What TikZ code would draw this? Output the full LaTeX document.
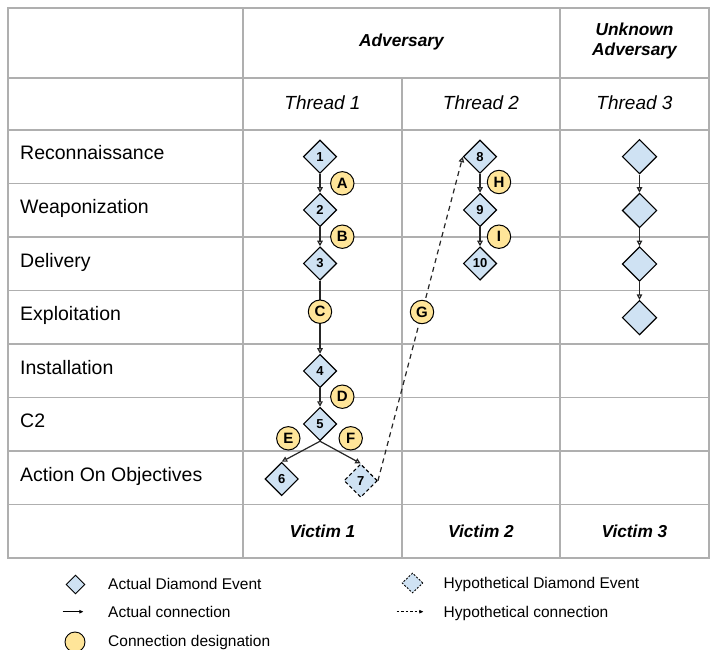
\documentclass[tikz,border=0pt]{standalone}
\usepackage{fontspec}
\setmainfont{Liberation Sans}
\usetikzlibrary{shapes.geometric,arrows.meta}
\definecolor{dfill}{RGB}{207,226,243}
\definecolor{cfill}{RGB}{255,229,153}
\definecolor{gridc}{RGB}{175,175,175}
\begin{document}
\begin{tikzpicture}[x=1pt,y=-1pt,
  ev/.style={diamond,draw=black,line width=1.1pt,fill=dfill,inner sep=0pt,
    minimum width=33.4pt,minimum height=33.4pt,font=\fontsize{13}{13}\selectfont\bfseries},
  evbig/.style={ev,minimum width=34.5pt,minimum height=34.5pt},
  hyp/.style={ev,dash pattern=on 3.5pt off 2.5pt},
  lab/.style={circle,draw=black,line width=1pt,fill=cfill,inner sep=0pt,
    minimum size=23.4pt,font=\fontsize{15}{15}\selectfont\bfseries},
  conn/.style={line width=1.2pt,draw={black!85},-{Triangle[open,length=5.5pt,width=5.5pt]}},
  hconn/.style={conn,dash pattern=on 5pt off 4pt},
  gridl/.style={draw=gridc,line width=1.2pt},
  rowlab/.style={anchor=base west,inner sep=0pt,font=\fontsize{19.5}{19.5}\selectfont},
  hdr/.style={inner sep=0pt,font=\fontsize{17.3}{20}\selectfont\bfseries\itshape},
  thr/.style={inner sep=0pt,font=\fontsize{19}{19}\selectfont\itshape},
  legtxt/.style={anchor=base west,inner sep=0pt,font=\fontsize{15.5}{15.5}\selectfont}]
\useasboundingbox (0,0) rectangle (710,650);

% grid
\draw[gridl] (8,8) rectangle (709,558);
\foreach \y in {78,130,183.5,237,290.5,344,397.5,451,504.5}
  \draw[gridl] (8,\y) -- (709,\y);
\draw[gridl] (243,8) -- (243,558);
\draw[gridl] (560,8) -- (560,558);
\draw[gridl] (402,78) -- (402,558);

% headers
\node[hdr] (adv) at (401.5,42) {Adversary};
\node[hdr,align=center] (unk) at (634.5,41) {Unknown\\Adversary};
\node[thr] (t1) at (322.5,103) {Thread 1};
\node[thr] (t2) at (481,103) {Thread 2};
\node[thr] (t3) at (634.5,103) {Thread 3};
\node[hdr] (v1) at (322.5,531) {Victim 1};
\node[hdr] (v2) at (481,531) {Victim 2};
\node[hdr] (v3) at (634.5,531) {Victim 3};

% row labels
\node[rowlab] (r1) at (20,160) {Reconnaissance};
\node[rowlab] (r2) at (20,213.5) {Weaponization};
\node[rowlab] (r3) at (20,267) {Delivery};
\node[rowlab] (r4) at (20,320.5) {Exploitation};
\node[rowlab] (r5) at (20,374) {Installation};
\node[rowlab] (r6) at (20,427.5) {C2};
\node[rowlab] (r7) at (20,481) {Action On Objectives};

% diamonds
\node[ev] (d1) at (320,156.7) {1};
\node[ev] (d2) at (320,210) {2};
\node[ev] (d3) at (320,263.5) {3};
\node[ev] (d4) at (320,371) {4};
\node[ev] (d5) at (320,424) {5};
\node[ev] (d6) at (281.7,479) {6};
\node[hyp] (d7) at (360.7,480.7) {7};
\node[ev] (d8) at (480,156.7) {8};
\node[ev] (d9) at (480,210) {9};
\node[ev] (d10) at (480,263.5) {10};
\node[evbig] (u1) at (639.5,156.7) {};
\node[evbig] (u2) at (639.5,210.5) {};
\node[evbig] (u3) at (639.5,264) {};
\node[evbig] (u4) at (639.5,317.7) {};

% connections
\draw[conn] (d1) -- (d2);
\draw[conn] (d2) -- (d3);
\draw[conn] (d3) -- (d4);
\draw[conn] (d4) -- (d5);
\draw[conn] (d5.south) -- (d6.north);
\draw[conn] (d5.south) -- (d7.north);
\draw[hconn] (d7.east) -- (d8.west);
\draw[conn] (d8) -- (d9);
\draw[conn] (d9) -- (d10);
\draw[conn] (u1) -- (u2);
\draw[conn] (u2) -- (u3);
\draw[conn] (u3) -- (u4);

% designations
\node[lab] (cA) at (342.3,183.3) {A};
\node[lab] (cB) at (342.3,236.7) {B};
\node[lab] (cC) at (320,311.7) {C};
\node[lab] (cD) at (342.3,396.7) {D};
\node[lab] (cE) at (288.3,438.3) {E};
\node[lab] (cF) at (350.7,438.3) {F};
\node[lab] (cG) at (422,312) {G};
\node[lab] (cH) at (499,182) {H};
\node[lab] (cI) at (499,236.7) {I};

% legend
\node[ev,line width=0.9pt,minimum width=19pt,minimum height=19pt] (lg1) at (75.5,584.5) {};
\node[legtxt] (lt1) at (108,589.5) {Actual Diamond Event};
\coordinate (la1) at (62.7,611.7);
\coordinate (la2) at (83.3,611.7);
\draw[line width=0.9pt,-{Triangle[length=4pt,width=3.5pt]}] (la1) -- (la2);
\node[legtxt] (lt2) at (108,617.2) {Actual connection};
\node[lab,line width=0.9pt,minimum size=20pt] (lg3) at (75,642) {};
\node[legtxt] (lt3) at (108,646) {Connection designation};
\node[ev,line width=0.9pt,minimum width=21pt,minimum height=20pt,dash pattern=on 2pt off 1.5pt] (lg4) at (412.5,583) {};
\node[legtxt] (lt4) at (443.5,588.5) {Hypothetical Diamond Event};
\coordinate (lb1) at (396.7,611.7);
\coordinate (lb2) at (423.3,611.7);
\draw[line width=0.8pt,dash pattern=on 2.5pt off 2pt,-{Triangle[length=4pt,width=3.5pt]}] (lb1) -- (lb2);
\node[legtxt] (lt5) at (443.5,617.2) {Hypothetical connection};
\end{tikzpicture}
\end{document}
